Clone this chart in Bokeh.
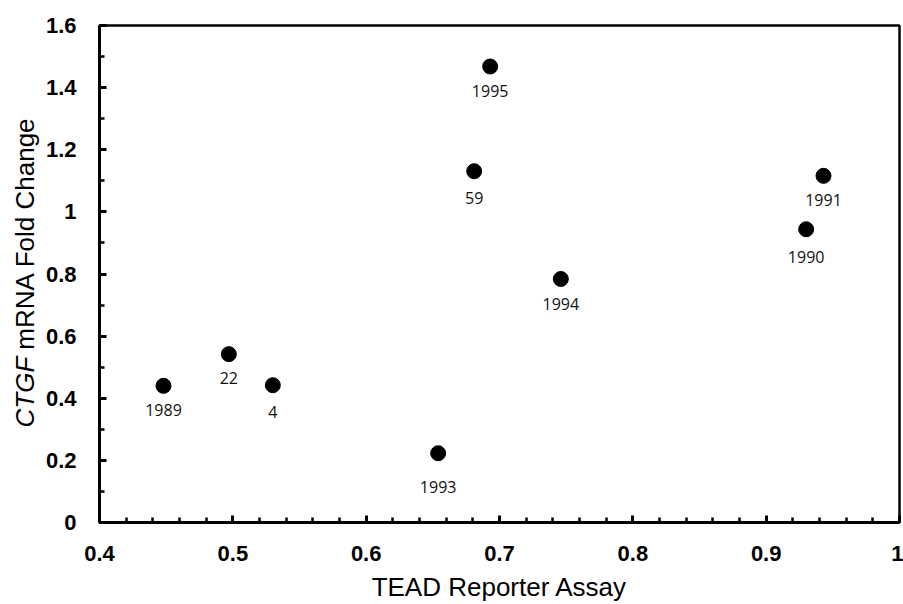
import math
from bokeh.plotting import figure
from bokeh.models import Range1d, FixedTicker, ColumnDataSource
from bokeh.layouts import row
from bokeh.core.properties import value
from bokeh.embed import file_html
from bokeh.resources import INLINE

# ---- data ----
names = ["1989", "22", "4", "1993", "59", "1995", "1994", "1990", "1991"]
tead = [0.448, 0.497, 0.530, 0.654, 0.681, 0.693, 0.746, 0.930, 0.943]
ctgf = [0.440, 0.542, 0.442, 0.223, 1.131, 1.468, 0.784, 0.944, 1.116]
label_dy = [24, 24, 27, 34, 27, 24, 25, 28, 24]  # label offset below point (px)

x_ticks = [0.4, 0.5, 0.6, 0.7, 0.8, 0.9, 1.0]
x_tick_labels = ["0.4", "0.5", "0.6", "0.7", "0.8", "0.9", "1"]
x_minor = [0.42, 0.44, 0.46, 0.48, 0.52, 0.54, 0.56, 0.58, 0.62, 0.64, 0.66, 0.68,
           0.72, 0.74, 0.76, 0.78, 0.82, 0.84, 0.86, 0.88, 0.92, 0.94, 0.96, 0.98]
y_ticks = [0, 0.2, 0.4, 0.6, 0.8, 1.0, 1.2, 1.4, 1.6]
y_tick_labels = ["0", "0.2", "0.4", "0.6", "0.8", "1", "1.2", "1.4", "1.6"]
y_minor = [0.1, 0.3, 0.5, 0.7, 0.9, 1.1, 1.3, 1.5]

x_title = "TEAD Reporter Assay"
y_title_parts = ["CTGF", "mRNA Fold Change"]
y_title_styles = ["italic", "normal"]

# ---- layout sizes ----
TOTAL_W, TOTAL_H = 903, 604
YL_W = 40              # strip holding the y title
LEFT, RIGHT, TOP = 59, 4, 25
BOTTOM = 81
MAIN_W = TOTAL_W - YL_W

src = ColumnDataSource(dict(x=tead, y=ctgf, name=names, dy=label_dy))

p = figure(output_backend="svg", toolbar_location=None,
           width=MAIN_W, height=TOTAL_H,
           x_range=Range1d(0.4, 1.0), y_range=Range1d(0, 1.6),
           min_border_left=LEFT, min_border_right=RIGHT, min_border_top=TOP,
           min_border_bottom=BOTTOM)
p.background_fill_color = "white"
p.border_fill_color = "white"
p.grid.visible = False
p.outline_line_color = "black"
p.outline_line_width = 2.5
p.outline_line_alpha = 1.0

p.xaxis.ticker = FixedTicker(ticks=x_ticks, minor_ticks=x_minor)
p.yaxis.ticker = FixedTicker(ticks=y_ticks, minor_ticks=y_minor)
p.xaxis.major_label_overrides = {t: l for t, l in zip(x_ticks, x_tick_labels)}
p.yaxis.major_label_overrides = {t: l for t, l in zip(y_ticks, y_tick_labels)}

for ax in (p.xaxis, p.yaxis):
    ax.axis_line_width = 3
    ax.axis_line_color = "black"
    ax.major_tick_in = 7
    ax.major_tick_out = 0
    ax.minor_tick_in = 5
    ax.minor_tick_out = 0
    ax.major_tick_line_width = 3
    ax.minor_tick_line_width = 2.5
    ax.major_tick_line_color = "black"
    ax.minor_tick_line_color = "black"
    ax.major_label_text_font = "Liberation Sans"
    ax.major_label_text_font_style = "bold"
    ax.major_label_text_font_size = "22px"
    ax.major_label_text_color = "black"

p.xaxis.major_label_standoff = 23
p.yaxis.major_label_standoff = 23
p.xaxis.axis_label = x_title
p.xaxis.axis_label_standoff = 8
p.xaxis.axis_label_text_font = "Liberation Sans"
p.xaxis.axis_label_text_font_style = "normal"
p.xaxis.axis_label_text_font_size = "26px"
p.xaxis.axis_label_text_color = "black"

p.scatter("x", "y", source=src, size=15, color="black")
p.text("x", "y", text="name", source=src, y_offset="dy",
       text_align="center", text_baseline="middle",
       text_font=value("Open Sans"), text_font_size="16px", text_color="#111111")

# ---- y title strip: its frame is aligned with the main frame in the row,
# so map its y range to canvas pixels measured from the bottom ----
yl = figure(output_backend="svg", toolbar_location=None,
            width=YL_W, height=TOTAL_H,
            x_range=Range1d(0, YL_W), y_range=Range1d(BOTTOM, TOTAL_H - TOP),
            x_axis_location=None, y_axis_location=None, min_border=0)
yl.grid.visible = False
yl.outline_line_color = None
yl.background_fill_color = "white"
yl.border_fill_color = "white"

y_center = TOTAL_H - 272.5          # title centred on the frame
y_start = y_center - 155.3
part_offsets = [0.0, 78.0]          # 'CTGF ' advance at 26px
for txt, style, off in zip(y_title_parts, y_title_styles, part_offsets):
    yl.text(x=[24], y=[y_start + off], text=[txt], angle=math.pi / 2,
            text_align="left", text_baseline="middle",
            text_font=value("Liberation Sans"), text_font_style=style,
            text_font_size="26px", text_color="black")

layout = row(yl, p, spacing=0)

open("out.html", "w").write(file_html(layout, INLINE))
